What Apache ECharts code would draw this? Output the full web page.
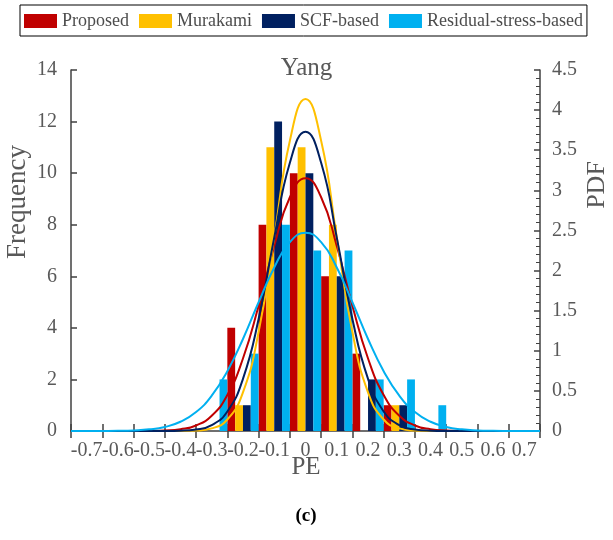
<!DOCTYPE html>
<html>
<head>
<meta charset="utf-8">
<script src="https://cdn.jsdelivr.net/npm/echarts@6/dist/echarts.min.js"></script>
<style>
  html, body { margin: 0; padding: 0; background: #fff; }
  #chart { width: 613px; height: 540px; }
</style>
</head>
<body>
<div id="chart"></div>
<script>
// PE bins (bin centres) and tick labels on the frequency axis
const bins = ['-0.7', '-0.6', '-0.5', '-0.4', '-0.3', '-0.2', '-0.1', '0', '0.1', '0.2', '0.3', '0.4', '0.5', '0.6', '0.7'];

// Histogram counts per bin
const freqProposed = [0, 0, 0, 0, 0, 4, 8, 10, 6, 3, 1, 0, 0, 0, 0];
const freqMurakami = [0, 0, 0, 0, 0, 1, 11, 11, 8, 0, 1, 0, 0, 0, 0];
const freqSCF      = [0, 0, 0, 0, 0, 1, 12, 10, 6, 2, 1, 0, 0, 0, 0];
const freqResidual = [0, 0, 0, 0, 2, 3, 8, 7, 7, 2, 2, 1, 0, 0, 0];

// Fitted probability density curves, sampled along PE
const pdfX = [-0.75, -0.7, -0.65, -0.6, -0.55, -0.5, -0.45, -0.4, -0.35, -0.3, -0.25, -0.2, -0.15, -0.1, -0.05,
              0, 0.05, 0.1, 0.15, 0.2, 0.25, 0.3, 0.35, 0.4, 0.45, 0.5, 0.55, 0.6, 0.65, 0.7, 0.75];
const pdfProposed = [0, 0, 0, 0, 0.0002, 0.0013, 0.0057, 0.0214, 0.069, 0.19, 0.448, 0.904, 1.561, 2.306, 2.914,
                     3.15, 2.914, 2.306, 1.561, 0.904, 0.448, 0.19, 0.069, 0.0214, 0.0057, 0.0013, 0.0002, 0, 0, 0, 0];
const pdfMurakami = [0, 0, 0, 0, 0, 0, 0, 0.0008, 0.0057, 0.0327, 0.143, 0.481, 1.234, 2.417, 3.619,
                     4.14, 3.619, 2.417, 1.234, 0.481, 0.143, 0.0327, 0.0057, 0.0008, 0, 0, 0, 0, 0, 0, 0];
const pdfSCF      = [0, 0, 0, 0, 0, 0, 0.0005, 0.0035, 0.0177, 0.0732, 0.243, 0.65, 1.396, 2.41, 3.344,
                     3.73, 3.344, 2.41, 1.396, 0.65, 0.243, 0.0732, 0.0177, 0.0035, 0.0005, 0, 0, 0, 0, 0, 0];
const pdfResidual = [0, 0.0001, 0.0008, 0.0025, 0.0075, 0.0205, 0.0509, 0.115, 0.236, 0.44, 0.745, 1.147, 1.605, 2.039, 2.354,
                     2.47, 2.354, 2.039, 1.605, 1.147, 0.745, 0.44, 0.236, 0.115, 0.0509, 0.0205, 0.0075, 0.0025, 0.0008, 0.0001, 0];

const names  = ['Proposed', 'Murakami', 'SCF-based', 'Residual-stress-based'];
const colors = ['#C00000', '#FFC000', '#002060', '#00B0F0'];
const freqs  = [freqProposed, freqMurakami, freqSCF, freqResidual];
const pdfs   = [pdfProposed, pdfMurakami, pdfSCF, pdfResidual];

const FONT = '"Liberation Serif", "Times New Roman", serif';
const GREY = '#595959';
const AXIS = '#404040';

const chart = echarts.init(document.getElementById('chart'), null, { renderer: 'canvas' });

const series = [];
names.forEach((n, i) => {
  series.push({
    name: n,
    type: 'bar',
    xAxisIndex: 0,
    yAxisIndex: 0,
    data: freqs[i],
    itemStyle: { color: colors[i] },
    barGap: '0%',
    barCategoryGap: '0%',
    silent: true,
    z: 2
  });
});
names.forEach((n, i) => {
  series.push({
    name: n,
    type: 'line',
    xAxisIndex: 2,
    yAxisIndex: 1,
    data: pdfX.map((x, k) => [x, pdfs[i][k]]),
    smooth: 0.5,
    symbol: 'none',
    lineStyle: { color: colors[i], width: 2 },
    itemStyle: { color: colors[i] },
    silent: true,
    z: 3
  });
});

chart.setOption({
  animation: false,
  textStyle: { fontFamily: FONT },
  title: {
    text: 'Yang',
    left: 'center',
    top: 51,
    textStyle: { fontFamily: FONT, fontSize: 25, fontWeight: 'normal', color: GREY }
  },
  legend: {
    data: names.map(n => ({ name: n, icon: 'rect' })),
    left: 20,
    top: 5,
    padding: [7, 4, 6, 4],
    itemWidth: 33,
    itemHeight: 14,
    itemGap: 10,
    borderColor: '#000',
    borderWidth: 1,
    textStyle: { fontFamily: FONT, fontSize: 18, color: '#4d4d4d' },
    selectedMode: false
  },
  grid: { left: 71, right: 73, top: 70, bottom: 109, containLabel: false },
  xAxis: [
    {
      type: 'category',
      data: bins,
      position: 'bottom',
      axisLine: { onZero: false, lineStyle: { color: AXIS, width: 1.5 } },
      axisTick: { show: true, inside: false, length: 7, lineStyle: { color: AXIS, width: 1.5 } },
      axisLabel: { color: GREY, fontSize: 20, fontFamily: FONT, margin: 10, interval: 0 },
      splitLine: { show: false }
    },
    {
      type: 'category',
      data: bins,
      position: 'bottom',
      axisLine: { show: false, onZero: false },
      axisTick: { show: true, inside: true, length: 7, lineStyle: { color: AXIS, width: 1.5 } },
      axisLabel: { show: false },
      splitLine: { show: false }
    },
    {
      type: 'value',
      min: -0.75,
      max: 0.75,
      position: 'top',
      show: false,
      axisLine: { show: false, onZero: false },
      axisTick: { show: false },
      axisLabel: { show: false },
      splitLine: { show: false }
    }
  ],
  yAxis: [
    {
      type: 'value',
      min: 0,
      max: 14,
      interval: 2,
      position: 'left',
      axisLine: { show: true, onZero: false, lineStyle: { color: AXIS, width: 1.5 } },
      axisTick: { show: true, inside: true, length: 6, lineStyle: { color: AXIS, width: 1.5 } },
      axisLabel: { color: GREY, fontSize: 20, fontFamily: FONT, margin: 14 },
      splitLine: { show: false }
    },
    {
      type: 'value',
      min: 0,
      max: 4.5,
      interval: 0.5,
      position: 'right',
      axisLine: { show: true, onZero: false, lineStyle: { color: AXIS, width: 1.5 } },
      axisTick: { show: true, inside: true, length: 6, lineStyle: { color: AXIS, width: 1.5 } },
      minorTick: { show: true, splitNumber: 5, length: 4, lineStyle: { color: AXIS, width: 1 } },
      axisLabel: { color: GREY, fontSize: 20, fontFamily: FONT, margin: 12 },
      splitLine: { show: false }
    }
  ],
  graphic: [
    {
      type: 'text',
      x: 18, y: 202,
      rotation: Math.PI / 2,
      style: { text: 'Frequency', font: '27px ' + FONT, fill: GREY, align: 'center', verticalAlign: 'middle' }
    },
    {
      type: 'text',
      x: 597, y: 185,
      rotation: Math.PI / 2,
      style: { text: 'PDF', font: '26px ' + FONT, fill: GREY, align: 'center', verticalAlign: 'middle' }
    },
    {
      type: 'text',
      x: 306, y: 467,
      style: { text: 'PE', font: '25px ' + FONT, fill: GREY, align: 'center', verticalAlign: 'middle' }
    },
    {
      type: 'text',
      x: 306, y: 516,
      style: { text: '(c)', font: 'bold 19px ' + FONT, fill: '#000', align: 'center', verticalAlign: 'middle' }
    }
  ],
  series: series
});
</script>
</body>
</html>
